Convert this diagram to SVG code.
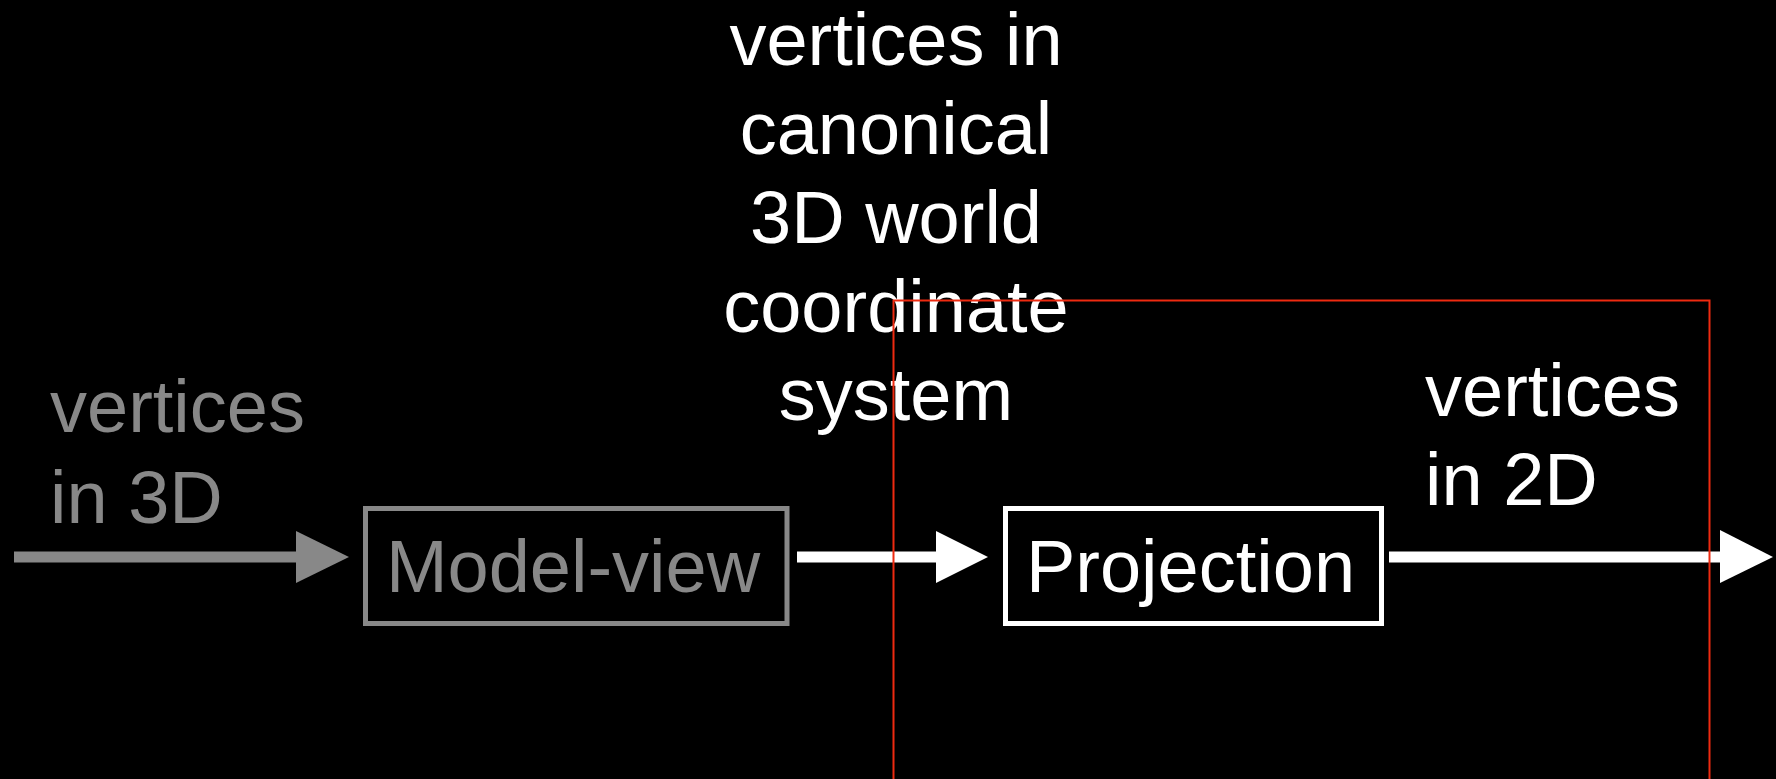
<svg xmlns="http://www.w3.org/2000/svg" width="1776" height="779" viewBox="0 0 1776 779">
<style>
text{font-family:"Liberation Sans",Arial,sans-serif;font-size:74px}
.g{fill:#888888}
.w{fill:#ffffff}
.box{fill:none;stroke-width:5}
.shaft{stroke-width:11;fill:none}
</style>
<rect x="0" y="0" width="1776" height="779" fill="#000000"/>
<g id="label-top">
<text class="w" x="896" y="65" text-anchor="middle">vertices in</text>
<text class="w" x="896" y="154" text-anchor="middle">canonical</text>
<text class="w" x="896" y="243" text-anchor="middle">3D world</text>
<text class="w" x="896" y="332" text-anchor="middle">coordinate</text>
<text class="w" x="896" y="420" text-anchor="middle">system</text>
</g>
<g id="label-in3d">
<text class="g" x="50" y="432">vertices</text>
<text class="g" x="50" y="523">in 3D</text>
</g>
<g id="label-in2d">
<text class="w" x="1425" y="416">vertices</text>
<text class="w" x="1425" y="505">in 2D</text>
</g>
<g id="node-modelview">
<rect class="box" x="365.5" y="508.5" width="421.5" height="115" stroke="#888888"/>
<text class="g" x="573" y="592" text-anchor="middle">Model-view</text>
</g>
<g id="node-projection">
<rect class="box" x="1005.5" y="508.5" width="376" height="115" stroke="#ffffff"/>
<text class="w" x="1190.5" y="592" text-anchor="middle">Projection</text>
</g>
<g id="connectors">
<line class="shaft" x1="14" y1="557" x2="298" y2="557" stroke="#888888"/>
<polygon points="296,531 349,557 296,583" fill="#888888"/>
<line class="shaft" x1="797" y1="557" x2="938" y2="557" stroke="#ffffff"/>
<polygon points="936,531 988,557 936,583" fill="#ffffff"/>
<line class="shaft" x1="1389" y1="557" x2="1722" y2="557" stroke="#ffffff"/>
<polygon points="1720,530 1773,557 1720,583" fill="#ffffff"/>
</g>
<path d="M893.5,790 V300.5 H1709.5 V790" fill="none" stroke="#ee2a10" stroke-width="2"/>
</svg>
